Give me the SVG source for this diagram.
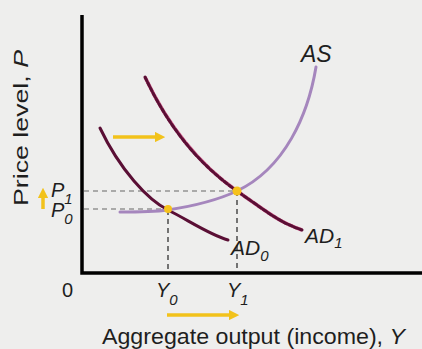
<svg xmlns="http://www.w3.org/2000/svg" width="422" height="349" viewBox="0 0 422 349">
<defs>
<style>
text{font-family:"Liberation Sans",Arial,sans-serif;fill:#1e1e1e}
.v{font-style:italic}
.axis{stroke:#000;stroke-width:3.5;fill:none}
.guide{stroke:#666;stroke-width:1.2;stroke-dasharray:5,4;fill:none}
.vguide{stroke:#222;stroke-width:1.2;stroke-dasharray:5,4;fill:none}
.ad{stroke:#5a0f35;stroke-width:3;fill:none;stroke-linecap:round}
.as{stroke:#a586bd;stroke-width:3;fill:none;stroke-linecap:round}
.yarrow{stroke:#f2c21b;stroke-width:3.5;fill:none}
</style>
<marker id="ya" viewBox="0 0 10 10" refX="5" refY="5" markerWidth="3" markerHeight="3" orient="auto"><path d="M0,0 L10,5 L0,10 z" fill="#f2c21b"/></marker>
</defs>
<rect width="422" height="349" fill="#eeeeed"/>
<g id="axes">
<path class="axis" d="M82,15 V273 H422"/>
</g>
<g id="connectors">
<path class="guide" d="M84,191 H237 M84,209 H168"/>
<path class="vguide" d="M168,210 V271 M237,191 V271"/>
<path class="yarrow" marker-end="url(#ya)" d="M113,137 H160"/>
<path class="yarrow" marker-end="url(#ya)" d="M167,315 H234"/>
<path class="yarrow" marker-end="url(#ya)" d="M43,209 V193"/>
</g>
<g id="AD0">
<path class="ad" d="M100,128 C120,170 148,200 168,210 S210,235 228,240"/>
<text class="v" x="231" y="255" font-size="21">AD<tspan font-size="15" dy="6">0</tspan></text>
</g>
<g id="AD1">
<path d="M145,77 C170,130 200,165 237,191 S280,222 302,230" stroke="#d05a8a" stroke-width="3.5" fill="none"/>
<path class="ad" stroke-dasharray="4,2" d="M145,77 C170,130 200,165 237,191 S280,222 302,230"/>
<text class="v" x="305" y="243" font-size="21">AD<tspan font-size="15" dy="5">1</tspan></text>
</g>
<g id="AS">
<path class="as" d="M120,212 C140,212 160,211 168,210 C200,205 220,199 237,191 C285,168 308,115 316,67"/>
<text class="v" x="301" y="62" font-size="23">AS</text>
</g>
<g id="E0"><circle cx="168" cy="209" r="4" fill="#f6c21c"/></g>
<g id="E1"><circle cx="237" cy="191" r="4.5" fill="#f6c21c"/></g>
<g id="labels">
<text x="62" y="297" font-size="20">0</text>
<text class="v" x="156" y="297" font-size="20">Y<tspan font-size="15" dy="8">0</tspan></text>
<text class="v" x="227" y="297" font-size="20">Y<tspan font-size="15" dy="8">1</tspan></text>
<text class="v" x="51" y="197" font-size="20">P<tspan font-size="15" dy="7">1</tspan></text>
<text class="v" x="51" y="217" font-size="20">P<tspan font-size="15" dy="7">0</tspan></text>
<text x="102" y="344" font-size="22" textLength="303" lengthAdjust="spacingAndGlyphs">Aggregate output (income), <tspan class="v">Y</tspan></text>
<text transform="translate(28,128) rotate(-90)" text-anchor="middle" font-size="21" textLength="156" lengthAdjust="spacingAndGlyphs">Price level, <tspan class="v">P</tspan></text>
</g>
</svg>
